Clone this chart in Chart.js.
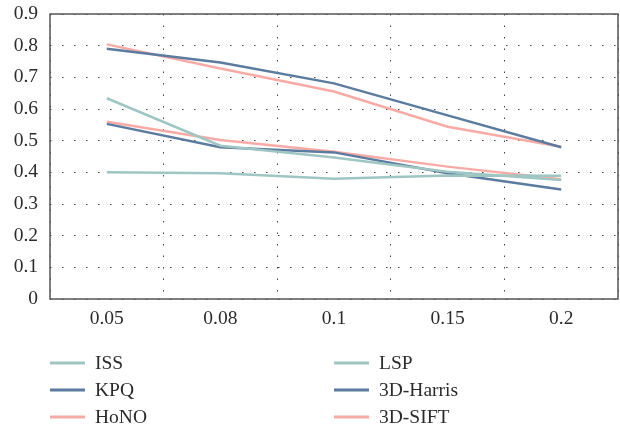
<!DOCTYPE html>
<html>
<head>
<meta charset="utf-8">
<script src="https://cdn.jsdelivr.net/npm/chart.js@4"></script>
<style>
  body { margin: 0; background: #fff; }
  #wrap { width: 620px; height: 426px; }
</style>
</head>
<body>
<div id="wrap"><canvas id="curveChart"></canvas></div>
<script>
// Values
var thresholds = ["0.05", "0.08", "0.1", "0.15", "0.2"];
var yTicks = [0, 0.1, 0.2, 0.3, 0.4, 0.5, 0.6, 0.7, 0.8, 0.9];

var iss = [0.400, 0.397, 0.380, 0.390, 0.389];
var lsp = [0.634, 0.484, 0.447, 0.402, 0.376];
var kpq = [0.553, 0.479, 0.463, 0.397, 0.346];
var harris = [0.790, 0.747, 0.681, 0.580, 0.479];
var hono = [0.560, 0.502, 0.465, 0.418, 0.378];
var sift = [0.804, 0.728, 0.655, 0.544, 0.481];

var teal = "#9fc6c3";
var blue = "#5b7b9f";
var pink = "#f8aba6";
var serif = "'Liberation Serif', 'DejaVu Serif', serif";

function series(label, data, color) {
    return {
        label: label,
        data: data,
        borderColor: color,
        backgroundColor: color,
        borderWidth: 2.5,
        pointRadius: 0,
        fill: false,
        tension: 0
    };
}

// frame round the plot area
var frame = {
    id: "frame",
    afterDraw: function (chart) {
        var a = chart.chartArea, ctx = chart.ctx;
        ctx.save();
        ctx.strokeStyle = "#555";
        ctx.lineWidth = 1.5;
        ctx.strokeRect(a.left, a.top, a.right - a.left, a.bottom - a.top);
        ctx.restore();
    }
};

// two-column legend under the chart
var twoColLegend = {
    id: "twoColLegend",
    afterDraw: function (chart) {
        var ctx = chart.ctx;
        ctx.save();
        ctx.font = "19.5px " + serif;
        ctx.textBaseline = "middle";
        chart.data.datasets.forEach(function (ds, i) {
            var x = (i % 2 === 0) ? 50 : 334;
            var y = 363 + Math.floor(i / 2) * 27;
            ctx.strokeStyle = ds.borderColor;
            ctx.lineWidth = 3;
            ctx.beginPath();
            ctx.moveTo(x, y);
            ctx.lineTo(x + 35, y);
            ctx.stroke();
            ctx.fillStyle = "#2b2b2b";
            ctx.fillText(ds.label, x + 45, y + 1);
        });
        ctx.restore();
    }
};

var ctx = document.getElementById("curveChart").getContext("2d");
var chart = new Chart(ctx, {
    type: "line",
    data: {
        labels: thresholds,
        datasets: [
            series("ISS", iss, teal),
            series("LSP", lsp, teal),
            series("KPQ", kpq, blue),
            series("3D-Harris", harris, blue),
            series("HoNO", hono, pink),
            series("3D-SIFT", sift, pink)
        ]
    },
    options: {
        responsive: true,
        maintainAspectRatio: false,
        animation: false,
        layout: { padding: { top: 14, right: 2, bottom: 97, left: 0 } },
        plugins: {
            legend: { display: false },
            tooltip: { enabled: false }
        },
        scales: {
            x: {
                offset: true,
                grid: {
                    offset: true,
                    drawTicks: false,
                    color: "#444",
                    lineWidth: 1
                },
                border: { display: false, dash: [1.5, 10] },
                ticks: {
                    padding: 8,
                    color: "#2b2b2b",
                    font: { family: serif, size: 19.5 }
                },
                afterFit: function (scale) {
                    scale.height = 30;
                    scale.paddingLeft = 0;
                    scale.paddingRight = 0;
                }
            },
            y: {
                min: 0,
                max: 0.9,
                afterBuildTicks: function (scale) {
                    scale.ticks = yTicks.map(function (v) { return { value: v }; });
                },
                grid: {
                    drawTicks: false,
                    color: "#444",
                    lineWidth: 1
                },
                border: { display: false, dash: [1.5, 10.5] },
                ticks: {
                    padding: 12,
                    color: "#2b2b2b",
                    font: { family: serif, size: 19.5 },
                    callback: function (v) { return String(Math.round(v * 10) / 10); }
                },
                afterFit: function (scale) {
                    scale.width = 50;
                    scale.paddingTop = 0;
                    scale.paddingBottom = 0;
                }
            }
        }
    },
    plugins: [frame, twoColLegend]
});
</script>
</body>
</html>
